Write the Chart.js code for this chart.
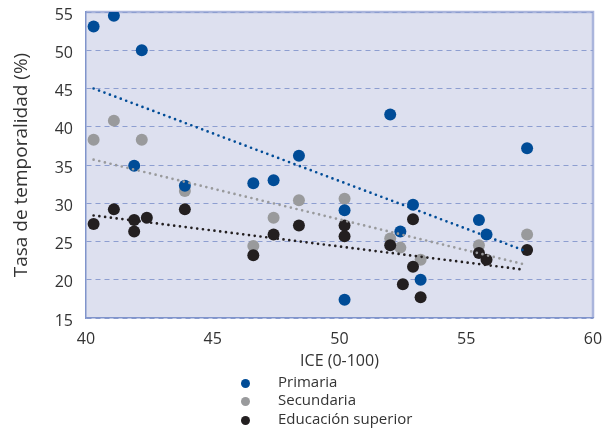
<!DOCTYPE html>
<html lang="es">
<head>
<meta charset="utf-8">
<title>Tasa de temporalidad e ICE</title>
<script src="https://cdn.jsdelivr.net/npm/chart.js@4.4.1/dist/chart.umd.min.js"></script>
<style>
  body { margin: 0; background: #fff; }
  #wrap { position: relative; width: 607px; height: 431px; }
  #legend { position: absolute; left: 241px; top: 372px; font: 15px 'Open Sans', sans-serif; color: #333; }
  #legend div { height: 18.3px; line-height: 18.3px; white-space: nowrap; }
  #legend span { display: inline-block; width: 9px; height: 9px; border-radius: 50%; margin-right: 28px; vertical-align: -1px; }
</style>
</head>
<body>
<div id="wrap">
  <canvas id="chart"></canvas>
  <div id="legend"></div>
</div>
<script>
// Series
const seriesNames = ['Primaria', 'Secundaria', 'Educación superior'];
const seriesColors = ['#004c97', '#999a9c', '#231f20'];

// Puntos (ICE, tasa de temporalidad)
const primariaX = [40.3, 41.1, 42.2, 41.9, 43.9, 46.6, 47.4, 48.4, 50.2, 50.2, 52.0, 52.4, 52.9, 53.2, 55.5, 55.8, 57.4];
const primariaY = [53.1, 54.5, 50.0, 34.9, 32.3, 32.6, 33.0, 36.2, 29.1, 17.4, 41.6, 26.3, 29.8, 20.0, 27.8, 25.9, 37.2];
const secundariaX = [40.3, 41.1, 42.2, 43.9, 46.6, 47.4, 48.4, 50.2, 52.0, 52.4, 53.2, 55.5, 57.4];
const secundariaY = [38.3, 40.8, 38.3, 31.6, 24.4, 28.1, 30.4, 30.6, 25.4, 24.2, 22.6, 24.5, 25.9];
const superiorX = [40.3, 41.1, 41.9, 41.9, 42.4, 43.9, 46.6, 47.4, 48.4, 50.2, 50.2, 52.0, 52.9, 52.9, 52.5, 53.2, 55.5, 55.8, 57.4];
const superiorY = [27.3, 29.2, 27.8, 26.3, 28.1, 29.2, 23.2, 25.9, 27.1, 27.1, 25.7, 24.5, 27.9, 21.7, 19.4, 17.7, 23.5, 22.6, 23.9];

// Líneas de tendencia (extremos)
const trendX = [40.3, 57.3];
const trendPrimaria = [45.0, 23.8];
const trendSecundaria = [35.7, 22.0];
const trendSuperior = [28.4, 21.3];

// Ejes
const xTicks = [40, 45, 50, 55, 60];
const yTicks = [15, 20, 25, 30, 35, 40, 45, 50, 55];

const toPoints = (xs, ys) => xs.map((x, i) => ({ x: x, y: ys[i] }));

// Fondo y marco del área de trazado
const plotFrame = {
    id: 'plotFrame',
    beforeDraw(chart) {
        const { ctx, chartArea: a } = chart;
        ctx.save();
        ctx.fillStyle = '#dde0ef';
        ctx.fillRect(a.left, a.top, a.width, a.height);
        ctx.strokeStyle = '#aab5dc';
        ctx.lineWidth = 2.5;
        ctx.beginPath();
        ctx.moveTo(a.left, a.top);
        ctx.lineTo(a.right, a.top);
        ctx.lineTo(a.right, a.bottom);
        ctx.stroke();
        ctx.restore();
    }
};

function trend(ys, color) {
    return {
        data: toPoints(trendX, ys),
        showLine: true,
        borderColor: color,
        borderWidth: 2.7,
        borderDash: [0, 5.8],
        borderCapStyle: 'round',
        pointRadius: 0,
        fill: false,
        order: 0
    };
}

function dots(xs, ys, color, order) {
    return {
        data: toPoints(xs, ys),
        pointRadius: 6,
        pointBackgroundColor: color,
        pointBorderWidth: 0,
        order: order
    };
}

// sin relleno automático por etiquetas desbordadas
function noPad(s) {
    s.paddingTop = 0;
    s.paddingBottom = 0;
    s.paddingLeft = 0;
    s.paddingRight = 0;
}

const font = "'Open Sans', sans-serif";

new Chart(document.getElementById('chart'), {
    type: 'scatter',
    data: {
        datasets: [
            trend(trendPrimaria, seriesColors[0]),
            trend(trendSecundaria, seriesColors[1]),
            trend(trendSuperior, seriesColors[2]),
            dots(primariaX, primariaY, seriesColors[0], 1),
            dots(superiorX, superiorY, seriesColors[2], 2),
            dots(secundariaX, secundariaY, seriesColors[1], 3)
        ]
    },
    options: {
        responsive: true,
        maintainAspectRatio: false,
        animation: false,
        events: [],
        layout: { padding: { top: 12, right: 14, left: 0, bottom: 0 } },
        plugins: {
            legend: { display: false },
            tooltip: { enabled: false }
        },
        scales: {
            x: {
                type: 'linear',
                min: 40,
                max: 60,
                afterBuildTicks: s => { s.ticks = xTicks.map(v => ({ value: v })); },
                afterFit: s => { s.height = 113; noPad(s); },
                ticks: { font: { family: font, size: 16 }, color: '#333', padding: 12 },
                grid: { display: false, drawTicks: false },
                border: { color: '#8094cb', width: 1.5 },
                title: {
                    display: true,
                    text: 'ICE (0-100)',
                    font: { family: font, size: 16 },
                    color: '#333',
                    padding: { top: 0, bottom: 59.7 }
                }
            },
            y: {
                type: 'linear',
                min: 15,
                max: 55,
                afterBuildTicks: s => { s.ticks = yTicks.map(v => ({ value: v })); },
                afterFit: s => { s.width = 86; noPad(s); },
                ticks: { font: { family: font, size: 16 }, color: '#333', padding: 13, labelOffset: 3 },
                grid: { color: '#8d9ed0', lineWidth: 1, drawTicks: false },
                border: { color: '#8094cb', width: 1.5, dash: [5, 4] },
                title: {
                    display: true,
                    text: 'Tasa de temporalidad (%)',
                    font: { family: font, size: 19 },
                    color: '#333',
                    padding: { top: 10, bottom: 0 }
                }
            }
        }
    },
    plugins: [plotFrame]
});

// Leyenda
const legend = document.getElementById('legend');
seriesNames.forEach((name, i) => {
    const row = document.createElement('div');
    const dot = document.createElement('span');
    dot.style.background = seriesColors[i];
    row.appendChild(dot);
    row.appendChild(document.createTextNode(name));
    legend.appendChild(row);
});
</script>
</body>
</html>
